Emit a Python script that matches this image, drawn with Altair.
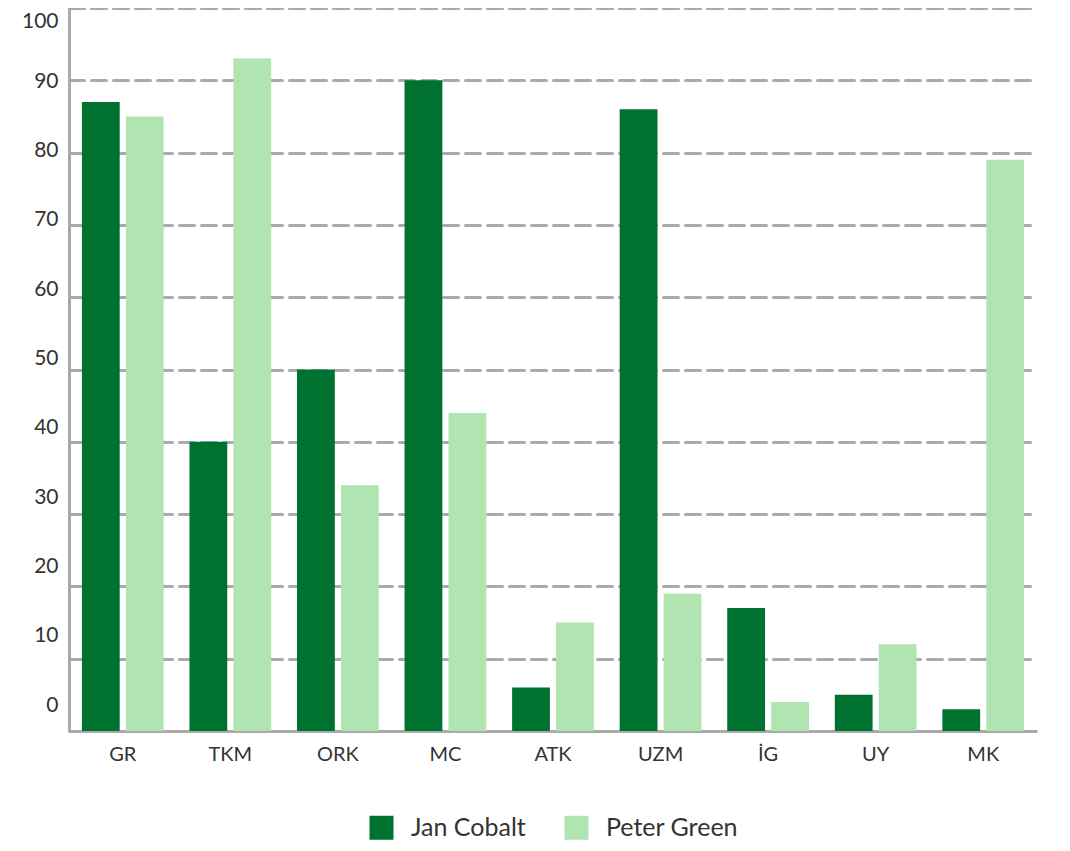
import altair as alt
import pandas as pd

categories = ["GR", "TKM", "ORK", "MC", "ATK", "UZM", "İG", "UY", "MK"]
series_names = ["Jan Cobalt", "Peter Green"]
jan_cobalt = [87, 40, 50, 90, 6, 86, 17, 5, 3]
peter_green = [85, 93, 34, 44, 15, 19, 4, 12, 79]
y_ticks = [0, 10, 20, 30, 40, 50, 60, 70, 80, 90, 100]
colors = ["#00722F", "#B0E4B1"]

rows = []
for i, c in enumerate(categories):
    rows.append({"cat": c, "series": series_names[0], "value": jan_cobalt[i]})
    rows.append({"cat": c, "series": series_names[1], "value": peter_green[i]})
df = pd.DataFrame(rows)

FONT = "Lato"

chart = alt.Chart(df).mark_bar().encode(
    x=alt.X("cat:N", sort=categories, title=None,
            scale=alt.Scale(paddingInner=0.24, paddingOuter=0.12),
            axis=alt.Axis(labelAngle=0, ticks=False, labelPadding=13, labelFontSize=20,
                          labelColor="#333333", labelFont=FONT, domainColor="#AAAAAA",
                          domainWidth=3, grid=False)),
    xOffset=alt.XOffset("series:N", sort=series_names,
                        scale=alt.Scale(paddingInner=0.14, paddingOuter=0)),
    y=alt.Y("value:Q", title=None,
            scale=alt.Scale(domain=[0, 100], nice=False),
            axis=alt.Axis(values=y_ticks, ticks=False, labelPadding=11, labelFontSize=21,
                          labelColor="#333333", labelFont=FONT, domainColor="#AAAAAA",
                          domainWidth=3, grid=True, gridColor="#AAAAAA", gridWidth=3,
                          gridDash=[15, 7], gridCap="round",
                          labelOffset={"condition": {"test": "datum.value >= 100", "value": 13},
                                       "expr": "-26 + 0.3 * datum.value"})),
    color=alt.Color("series:N", sort=series_names,
                    scale=alt.Scale(domain=series_names, range=colors),
                    legend=alt.Legend(title=None, orient="none", legendX=300, legendY=807,
                                      direction="horizontal", symbolType="square",
                                      symbolSize=576, symbolStrokeWidth=0,
                                      labelFontSize=25, labelFont=FONT, labelColor="#333333",
                                      labelOffset=17, columnPadding=38, padding=0)),
).properties(
    width=968, height=723,
    autosize=alt.AutoSizeParams(type="none"),
    padding={"left": 61, "top": 0, "right": 20, "bottom": 112},
).configure_view(stroke=None).configure_axis(gridCap="round")

chart.save("out.html", embed_options={"renderer": "svg", "actions": False})
